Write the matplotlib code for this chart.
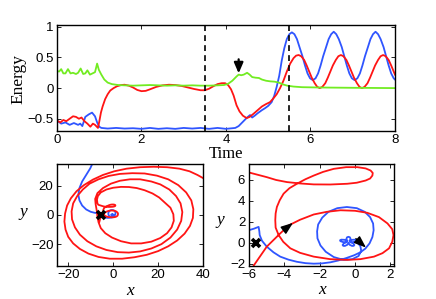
import numpy as np
import matplotlib
matplotlib.use("Agg")
import matplotlib.pyplot as plt

# ---------------- data: energy vs time ----------------
t_blue = [0, 0.1, 0.2, 0.3, 0.4, 0.5, 0.55, 0.6, 0.67, 0.75, 0.83, 0.9, 0.95, 1.0, 1.05,
          1.2, 1.4, 1.6, 1.8, 2.0, 2.2, 2.4, 2.6, 2.8, 3.0, 3.2, 3.4, 3.6, 3.8, 4.0, 4.15, 4.22,
          4.3, 4.4, 4.5, 4.57, 4.62, 4.68, 4.75, 4.85, 4.92, 5.0, 5.08, 5.14, 5.2, 5.26, 5.32,
          5.38, 5.44, 5.5,
          5.56, 5.62, 5.68, 5.74, 5.81, 5.87, 5.93, 5.99, 6.055,
          6.12, 6.18, 6.24, 6.30, 6.37, 6.43, 6.49, 6.55,
          6.61, 6.67, 6.74, 6.80, 6.86, 6.92, 6.98, 7.045,
          7.11, 7.17, 7.23, 7.29, 7.36, 7.42, 7.48, 7.54,
          7.60, 7.66, 7.73, 7.79, 7.85, 7.91, 7.97, 8.0]
e_blue = [-0.53, -0.58, -0.56, -0.60, -0.57, -0.60, -0.58, -0.62, -0.47, -0.43, -0.40, -0.46, -0.56, -0.63, -0.65,
          -0.66, -0.65, -0.66, -0.655, -0.665, -0.65, -0.665, -0.655, -0.665, -0.65, -0.66, -0.65, -0.665, -0.65, -0.665, -0.655, -0.65,
          -0.62, -0.55, -0.48, -0.44, -0.48, -0.45, -0.41, -0.36, -0.33, -0.29, -0.23, -0.13, 0.02, 0.20, 0.45,
          0.65, 0.80, 0.88,
          0.91, 0.88, 0.80, 0.67, 0.52, 0.37, 0.24, 0.16, 0.13,
          0.16, 0.24, 0.37, 0.52, 0.67, 0.80, 0.88, 0.92,
          0.88, 0.80, 0.67, 0.52, 0.37, 0.24, 0.16, 0.13,
          0.16, 0.24, 0.37, 0.52, 0.67, 0.80, 0.88, 0.92,
          0.88, 0.80, 0.67, 0.52, 0.37, 0.24, 0.16, 0.14]

t_red = [0, 0.08, 0.15, 0.22, 0.3, 0.38, 0.45, 0.52, 0.58, 0.65, 0.72, 0.79, 0.85, 0.9, 0.97, 1.0,
         1.04, 1.08, 1.14, 1.2, 1.26, 1.34, 1.42, 1.52, 1.6, 1.7, 1.8, 1.9, 2.0, 2.1, 2.2, 2.35,
         2.5, 2.65, 2.8, 2.95, 3.1, 3.25, 3.4, 3.5, 3.6, 3.7, 3.8, 3.9, 3.98, 4.05, 4.12, 4.18,
         4.25, 4.32, 4.4, 4.49, 4.56, 4.65, 4.75, 4.85, 4.95, 5.04, 5.12, 5.2, 5.28, 5.36, 5.44,
         5.52, 5.6, 5.66,
         5.72, 5.78, 5.85, 5.91, 5.97, 6.03, 6.10, 6.16, 6.22,
         6.28, 6.35, 6.41, 6.47, 6.53, 6.60, 6.66, 6.72,
         6.78, 6.85, 6.91, 6.97, 7.03, 7.10, 7.16, 7.22,
         7.28, 7.35, 7.41, 7.47, 7.53, 7.60, 7.66, 7.72,
         7.78, 7.85, 7.91, 7.97, 8.0]
e_red = [-0.53, -0.56, -0.52, -0.54, -0.50, -0.46, -0.47, -0.50, -0.48, -0.54, -0.58, -0.63, -0.58, -0.60, -0.65, -0.55,
         -0.40, -0.30, -0.18, -0.10, -0.04, 0.0, 0.03, 0.05, 0.055, 0.04, 0.01, -0.03, -0.05, -0.045, -0.02, 0.02,
         0.045, 0.055, 0.05, 0.035, 0.01, -0.015, -0.035, -0.035, -0.01, 0.03, 0.065, 0.08, 0.08, 0.05, -0.02, -0.12,
         -0.28, -0.38, -0.45, -0.49, -0.47, -0.42, -0.36, -0.30, -0.26, -0.23, -0.17, -0.10, 0.0, 0.12, 0.27,
         0.40, 0.49, 0.53,
         0.54, 0.52, 0.46, 0.37, 0.27, 0.17, 0.08, 0.02, 0.0,
         0.02, 0.08, 0.17, 0.27, 0.37, 0.46, 0.52, 0.54,
         0.52, 0.46, 0.37, 0.27, 0.17, 0.08, 0.02, 0.0,
         0.02, 0.08, 0.17, 0.27, 0.37, 0.46, 0.52, 0.54,
         0.52, 0.46, 0.37, 0.27, 0.22]

t_green = [0, 0.05, 0.1, 0.15, 0.2, 0.26, 0.32, 0.38, 0.45, 0.5, 0.56, 0.62, 0.67, 0.72, 0.78, 0.84,
           0.9, 0.95, 0.99, 1.05, 1.12, 1.2, 1.3, 1.45, 1.6, 1.8, 2.0, 2.2, 2.4, 2.6, 2.8, 3.0,
           3.2, 3.4, 3.6, 3.8, 3.95, 4.05, 4.15, 4.25, 4.3, 4.36, 4.42, 4.5, 4.56, 4.62, 4.7,
           4.78, 4.85, 4.95, 5.05, 5.15, 5.25, 5.35, 5.45, 5.6, 5.8, 6.2, 7.0, 8.0]
e_green = [0.28, 0.27, 0.31, 0.24, 0.24, 0.31, 0.24, 0.25, 0.23, 0.25, 0.32, 0.23, 0.24, 0.29, 0.22, 0.24,
           0.26, 0.40, 0.30, 0.22, 0.14, 0.09, 0.065, 0.05, 0.045, 0.04, 0.045, 0.05, 0.045, 0.04, 0.045, 0.04,
           0.045, 0.04, 0.04, 0.045, 0.05, 0.07, 0.12, 0.19, 0.22, 0.21, 0.22, 0.25, 0.22, 0.18, 0.17,
           0.165, 0.14, 0.12, 0.11, 0.105, 0.09, 0.06, 0.04, 0.025, 0.015, 0.01, 0.005, 0.0]

t_dashed = [3.5, 5.5]
t_arrow = 4.3

# ---------------- data: trajectories ----------------
red_x = [-6.1, -5.73, -4.98, -4.22, -3.72, -3.1, -2.33, -1.6, -0.82, 0.0, 0.69, 1.35, 1.83, 2.1, 2.17, 2.1,
         1.92, 1.55, 1.07, 0.3, -0.44, -1.4, -2.33, -3.1, -3.65, -4.05, -4.31, -4.48, -4.5, -4.48, -4.41,
         -4.25, -4.03, -3.7, -3.28, -2.8, -2.33, -1.8, -1.2, -0.5, 0.13, 0.6, 0.88, 1.0, 0.98, 0.85, 0.6,
         0.1, -0.44, -1.4, -2.33, -3.1, -3.84, -4.45, -4.98, -5.5, -6.0, -6.6,
         -7.0, -7.2, -6.8, -5.5, -3.0, 0.0, 3.5, 7.0, 10.5, 14.0, 17.5, 20.5, 23.0, 25.5, 26.8, 27.0,
         26.0, 24.0, 21.0, 17.0, 12.5, 8.0, 3.5, -0.5, -3.5, -5.5, -6.5, -7.0, -7.3,
         -7.8, -8.0, -7.0, -4.5, -1.0, 3.0, 7.5, 12.0, 17.0, 21.0, 25.0, 28.0, 30.0, 30.8, 30.3, 28.5,
         25.5, 21.5, 17.0, 12.0, 7.0, 2.0, -3.0, -7.5, -11.5, -14.8, -17.0, -18.3, -18.5, -17.8, -16.0, -13.5,
         -10.5, -6.5, -2.0, 3.0, 8.5, 14.0, 19.5, 24.5, 29.0, 32.5, 34.8, 35.7, 35.5, 34.2, 31.8, 28.5,
         24.5, 20.0, 15.0, 9.5, 4.0, -1.5, -6.5, -11.0, -14.8, -17.8, -20.0, -21.2, -21.7, -21.4, -20.5,
         -18.8, -16.3, -13.0,
         -9.0, -4.5, 0.5, 6.0, 12.0, 18.0, 24.0, 29.5, 34.0, 37.5, 41.0]
red_y = [-4.5, -2.19, -0.36, 0.9, 1.68, 2.2, 2.7, 2.95, 3.1, 3.05, 2.86, 2.45, 1.85, 1.3, 0.74, 0.1,
         -0.52, -0.98, -1.31, -1.55, -1.62, -1.55, -1.31, -0.95, -0.52, 0.1, 0.74, 1.45, 2.16, 2.8, 3.41,
         4.05, 4.68, 5.2, 5.62, 6.05, 6.4, 6.75, 7.04, 7.2, 7.2, 7.08, 6.88, 6.65, 6.4, 6.12, 5.93,
         5.72, 5.62, 5.55, 5.56, 5.65, 5.78, 5.98, 6.25, 6.48, 6.7, 7.0,
         8.0, 10.5, 13.0, 15.5, 17.5, 18.7, 19.3, 19.2, 18.5, 17.0, 14.8, 12.0, 8.5, 5.0, 0.5, -4.0,
         -8.5, -12.5, -15.8, -18.3, -19.5, -19.5, -18.0, -15.5, -12.5, -9.0, -5.0, -1.0, 3.0,
         7.5, 11.0, 15.0, 18.5, 21.5, 23.5, 24.5, 24.5, 23.0, 21.0, 17.5, 13.0, 8.0, 2.0, -4.0, -10.0,
         -15.5, -20.0, -23.0, -25.0, -25.8, -25.5, -24.0, -21.5, -18.0, -13.5, -8.5, -3.0, 2.5, 8.0, 13.0, 17.5,
         21.5, 24.5, 26.8, 28.2, 28.7, 28.5, 27.0, 24.5, 20.5, 15.5, 10.0, 4.0, -2.0, -7.5, -12.8, -17.5,
         -21.5, -24.8, -27.3, -29.0, -30.0, -30.0, -28.8, -26.5, -23.3, -19.5, -15.0, -10.0, -4.5, 1.0, 6.5,
         11.5, 16.3, 20.5,
         24.3, 27.5, 30.0, 31.8, 32.8, 33.1, 32.8, 31.8, 30.0, 27.5, 24.5]

blue_x = [-9.0, -10.2, -12.0, -13.8, -15.0, -15.5, -15.0, -13.8, -12.0, -10.0, -8.2, -6.8, -6.0, -5.7,
          -5.44, -5.4, -5.38, -5.25, -4.98, -4.6, -4.22, -3.75, -3.28, -2.8, -2.33, -1.85, -1.39, -0.95,
          -0.5, -0.05, 0.3, 0.58, 0.82, 0.98, 1.05, 1.02, 0.85, 0.55, 0.1, -0.46, -1.0, -1.5, -1.85,
          -2.08, -2.14, -2.12, -1.95, -1.65, -1.2, -0.65, -0.15, 0.2, 0.35, 0.3, 0.12]
blue_y = [36.0, 32.0, 27.5, 23.0, 18.5, 14.0, 10.0, 6.5, 3.8, 2.2, 1.5, 1.2, 1.2, 1.35,
          1.52, 1.1, 0.74, 0.2, -0.36, -0.9, -1.31, -1.6, -1.8, -1.93, -1.98, -1.95, -1.85, -1.68,
          -1.45, -1.18, -0.9, -0.55, -0.05, 0.55, 1.2, 1.84, 2.45, 2.95, 3.3, 3.41, 3.3, 2.95, 2.4,
          1.75, 1.1, 0.43, -0.25, -0.85, -1.35, -1.62, -1.55, -1.25, -0.75, -0.3, 0.05]

# small five-petal loop (polar readings about its centre)
flower_center = (-0.37, 0.1)
flower_ang = [-6, 8, 18, 28, 42, 54, 66, 80, 90, 100, 114, 126, 138, 152, 162, 172, 186, 198,
              210, 224, 234, 244, 258, 270, 282, 296, 306, 316, 330, 342, 354]
flower_rad = [0.3, 0.46, 0.5, 0.46, 0.3, 0.1, 0.3, 0.46, 0.5, 0.46, 0.3, 0.1, 0.3, 0.46, 0.5, 0.46, 0.3, 0.1,
              0.3, 0.46, 0.5, 0.46, 0.3, 0.1, 0.3, 0.46, 0.5, 0.46, 0.3, 0.1, 0.3]

fixed_point = (-5.6, 0.0)

# ---------------- style ----------------
BLUE = '#2f55ff'
RED = '#ff1414'
GREEN = '#72ec22'
LW = 1.3
plt.rcParams['font.family'] = ['Liberation Sans', 'DejaVu Sans']
plt.rcParams['font.size'] = 9.5
SERIF = ['Liberation Serif', 'DejaVu Serif']

fig = plt.figure(figsize=(4.36, 2.99), dpi=100)
ax1 = fig.add_axes([0.1307, 0.5619, 0.7752, 0.3545])
ax2 = fig.add_axes([0.1307, 0.1104, 0.3349, 0.3411])
ax3 = fig.add_axes([0.5704, 0.1104, 0.3333, 0.3411])


def style(ax):
    for s in ax.spines.values():
        s.set_linewidth(1.0)
    ax.tick_params(direction='in', length=3, width=0.6, top=True, right=True, pad=2.5,
                   labelsize=9.5)


# top panel
ax1.plot(t_blue, e_blue, color=BLUE, lw=LW)
ax1.plot(t_red, e_red, color=RED, lw=LW)
ax1.plot(t_green, e_green, color=GREEN, lw=LW)
for td in t_dashed:
    ax1.axvline(td, color='k', ls=(0, (3.5, 2.5)), lw=1.2)
ax1.annotate('', xy=(t_arrow, 0.24), xytext=(t_arrow, 0.47),
             arrowprops=dict(arrowstyle='-|>,head_width=0.3,head_length=0.7', color='k', lw=1.6,
                             shrinkA=0, shrinkB=0, mutation_scale=9))
ax1.set_xlim(0, 8)
ax1.set_ylim(-0.7, 1.03)
ax1.set_xticks([0, 2, 4, 6, 8])
ax1.set_yticks([-0.5, 0, 0.5, 1])
ax1.set_yticklabels(['\u22120.5', '0', '0.5', '1'])
style(ax1)

# trajectories
fx = [flower_center[0] + r * np.cos(np.deg2rad(a)) for a, r in zip(flower_ang, flower_rad)]
fy = [flower_center[1] + 0.95 * r * np.sin(np.deg2rad(a)) for a, r in zip(flower_ang, flower_rad)]
bx = blue_x + fx
by = blue_y + fy

for ax in (ax2, ax3):
    ax.plot(bx, by, color=BLUE, lw=LW)
    ax.plot(red_x, red_y, color=RED, lw=LW)
    ax.plot([fixed_point[0]], [fixed_point[1]], marker='x', color='k', ms=6, mew=2.6, zorder=5)
    style(ax)

ax2.set_xlim(-25, 40)
ax2.set_ylim(-35, 35)
ax2.set_xticks([-20, 0, 20, 40])
ax2.set_yticks([-20, 0, 20])

ax3.set_xlim(-6, 2.2)
ax3.set_ylim(-2.2, 7.5)
ax3.set_xticks([-6, -4, -2, 0, 2])
ax3.set_yticks([-2, 0, 2, 4, 6])
ax3.annotate('', xy=(-3.5, 1.9), xytext=(-4.0, 1.25),
             arrowprops=dict(arrowstyle='-|>,head_width=0.3,head_length=0.8', color='k', lw=1.0,
                             shrinkA=0, shrinkB=0, mutation_scale=9))
ax3.annotate('', xy=(0.62, -0.45), xytext=(0.05, 0.4),
             arrowprops=dict(arrowstyle='-|>,head_width=0.3,head_length=0.8', color='k', lw=1.0,
                             shrinkA=0, shrinkB=0, mutation_scale=9))

# labels
fig.text(0.042, 0.736, 'Energy', family=SERIF, fontsize=12.5, rotation=90, ha='center', va='center')
fig.text(0.518, 0.485, 'Time', family=SERIF, fontsize=12, ha='center', va='center')
fig.text(0.053, 0.29, 'y', family=SERIF, style='italic', fontsize=12.5, ha='center', va='center')
fig.text(0.298, 0.028, 'x', family=SERIF, style='italic', fontsize=12.5, ha='center', va='center')
fig.text(0.505, 0.265, 'y', family=SERIF, style='italic', fontsize=12.5, ha='center', va='center')
fig.text(0.738, 0.031, 'x', family=SERIF, style='italic', fontsize=12.5, ha='center', va='center')

fig.savefig('out.png', dpi=100)
